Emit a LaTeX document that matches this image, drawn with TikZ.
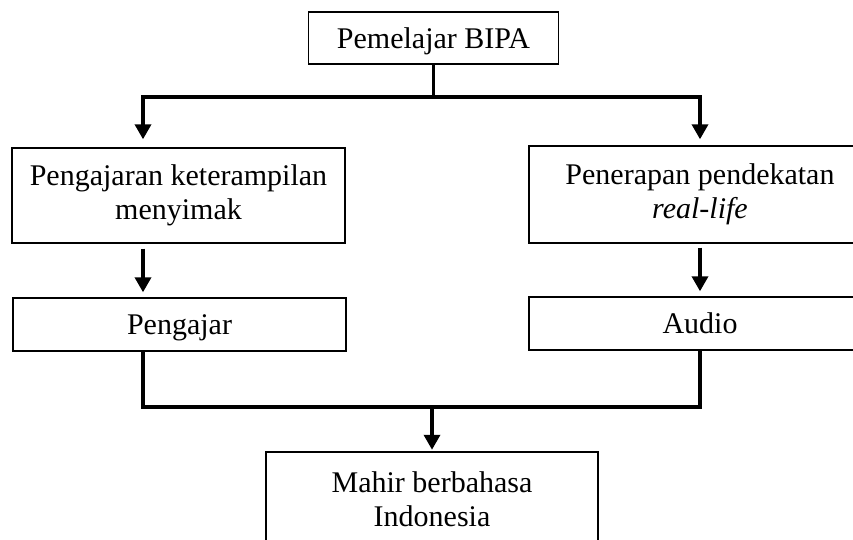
\documentclass[tikz,border=0pt]{standalone}
\usepackage{fontspec}
\setmainfont{Liberation Serif}
\usetikzlibrary{arrows.meta,calc}
\begin{document}
\begin{tikzpicture}[x=1pt,y=-1pt,
  nodebox/.style={draw, line width=1.4pt, inner sep=0pt, align=center,
    font=\fontsize{30}{34}\selectfont},
  oneline/.style={text depth=0pt},
  conn/.style={line width=3.5pt},
  arr/.style={conn, -{Triangle[width=16pt,length=15pt]}}]
\useasboundingbox (0,0) rectangle (853,540);
\clip (0,0) rectangle (853,540);
\node[nodebox, oneline, minimum width=250pt, minimum height=52pt] (top) at (433.5,38) {Pemelajar BIPA};
\node[nodebox, minimum width=333pt, minimum height=95pt] (peng) at (178.5,195.5) {Pengajaran keterampilan\\menyimak};
\node[nodebox, minimum width=342pt, minimum height=97pt] (pener) at (700,194.5) {Penerapan pendekatan\\\textit{real-life}};
\node[nodebox, oneline, minimum width=333pt, minimum height=53pt] (pengajar) at (179.5,324.5) {Pengajar};
\node[nodebox, oneline, minimum width=342pt, minimum height=53pt] (audio) at (700,323.5) {Audio};
\node[nodebox, line width=2.5pt, minimum width=332pt, minimum height=94pt] (mahir) at (432,499) {Mahir berbahasa\\Indonesia};
\coordinate (jl) at (143,97);
\coordinate (jr) at (700,97);
\coordinate (jb) at (432,407);
\draw[conn] (top.south) -- (top.south |- jl);
\draw[arr, shorten >=8pt] (top.south |- jl) -- (jl) -- (jl |- peng.north);
\draw[arr, shorten >=6pt] (top.south |- jr) -- (jr) -- (pener.north);
\draw[arr, shorten <=5pt, shorten >=5pt] (jl |- peng.south) -- (jl |- pengajar.north);
\draw[arr, shorten <=4pt, shorten >=5pt] (pener.south) -- (audio.north);
\draw[conn] (jl |- pengajar.south) |- (audio.south |- jb) -- (audio.south);
\draw[arr, shorten >=1pt] (jb) -- (mahir.north);
\end{tikzpicture}
\end{document}
